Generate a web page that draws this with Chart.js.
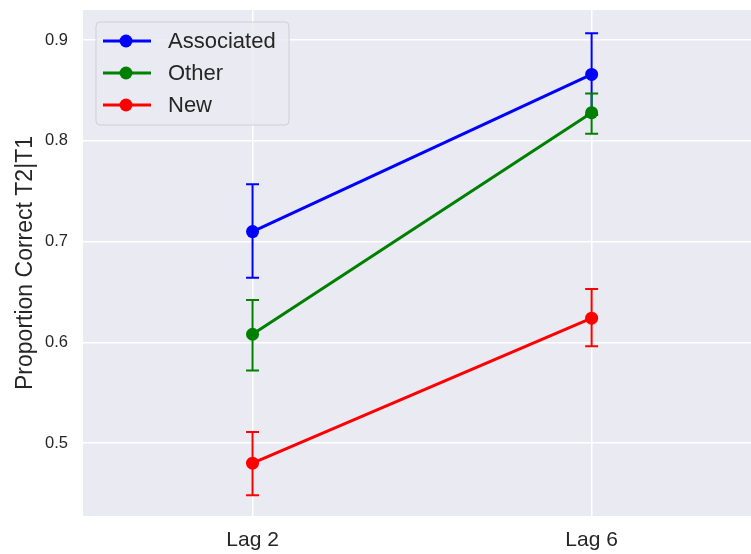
<!DOCTYPE html>
<html>
<head>
<meta charset="utf-8">
<script src="https://cdn.jsdelivr.net/npm/chart.js@4/dist/chart.umd.min.js"></script>
<style>
  body { margin: 0; background: #fff; }
  canvas { display: block; }
</style>
</head>
<body>
<canvas id="chart" width="751" height="554"></canvas>
<script>
const lags = ['Lag 2', 'Lag 6'];
const yTicks = [0.5, 0.6, 0.7, 0.8, 0.9];

const associated = [0.710, 0.866];
const associatedLo = [0.664, 0.826];
const associatedHi = [0.757, 0.907];

const other = [0.608, 0.828];
const otherLo = [0.572, 0.807];
const otherHi = [0.642, 0.847];

const newItems = [0.480, 0.624];
const newLo = [0.448, 0.596];
const newHi = [0.511, 0.653];

const FONT = '"Liberation Sans", Arial, sans-serif';
const TEXT = '#262626';

const toPoints = arr => arr.map((v, i) => ({ x: i, y: v }));

function series(label, color, vals, lo, hi, order) {
    return {
        label: label,
        data: toPoints(vals),
        lo: lo,
        hi: hi,
        order: order,
        borderColor: color,
        backgroundColor: color,
        borderWidth: 3,
        pointRadius: 6.5,
        pointHoverRadius: 6.5,
        pointBorderWidth: 0,
        tension: 0
    };
}

// grey panel behind the plot
const panelBg = {
    id: 'panelBg',
    beforeDraw(chart) {
        const { ctx, chartArea: a } = chart;
        ctx.save();
        ctx.fillStyle = '#eaeaf2';
        ctx.fillRect(a.left, a.top, a.right - a.left, a.bottom - a.top);
        ctx.restore();
    }
};

// vertical error bars with caps
const errorBars = {
    id: 'errorBars',
    afterDatasetDraw(chart, args) {
        const ds = chart.data.datasets[args.index];
        const { ctx, scales: { x, y } } = chart;
        ctx.save();
        ctx.strokeStyle = ds.borderColor;
        ctx.lineWidth = 2;
        ds.data.forEach((p, i) => {
            const px = x.getPixelForValue(p.x);
            const top = y.getPixelForValue(ds.hi[i]);
            const bot = y.getPixelForValue(ds.lo[i]);
            ctx.beginPath();
            ctx.moveTo(px, top); ctx.lineTo(px, bot);
            ctx.moveTo(px - 6.5, top); ctx.lineTo(px + 6.5, top);
            ctx.moveTo(px - 6.5, bot); ctx.lineTo(px + 6.5, bot);
            ctx.stroke();
        });
        ctx.restore();
    }
};

// matplotlib-style legend box in the upper left
const boxLegend = {
    id: 'boxLegend',
    afterDraw(chart) {
        const { ctx, chartArea: a } = chart;
        const bx = a.left + 13, by = a.top + 12, bw = 193, bh = 103;
        ctx.save();
        ctx.beginPath();
        ctx.roundRect(bx, by, bw, bh, 4);
        ctx.fillStyle = 'rgba(234,234,242,0.8)';
        ctx.fill();
        ctx.strokeStyle = '#cfcfd6';
        ctx.lineWidth = 1;
        ctx.stroke();
        const items = [chart.data.datasets[0], chart.data.datasets[1], chart.data.datasets[2]];
        items.forEach((ds, i) => {
            const cy = by + 19 + i * 32;
            ctx.strokeStyle = ds.borderColor;
            ctx.lineWidth = 3;
            ctx.beginPath();
            ctx.moveTo(bx + 7, cy); ctx.lineTo(bx + 55, cy);
            ctx.stroke();
            ctx.fillStyle = ds.borderColor;
            ctx.beginPath();
            ctx.arc(bx + 30, cy, 6.5, 0, Math.PI * 2);
            ctx.fill();
            ctx.fillStyle = TEXT;
            ctx.font = '22px ' + FONT;
            ctx.textBaseline = 'middle';
            ctx.fillText(ds.label, bx + 72, cy + 1);
        });
        ctx.restore();
    }
};

new Chart(document.getElementById('chart'), {
    type: 'line',
    data: {
        datasets: [
            series('Associated', '#0000ff', associated, associatedLo, associatedHi, 3),
            series('Other', '#008000', other, otherLo, otherHi, 2),
            series('New', '#ff0000', newItems, newLo, newHi, 1)
        ]
    },
    options: {
        responsive: false,
        animation: false,
        devicePixelRatio: 1,
        layout: { autoPadding: false, padding: { top: 10, right: 0, left: 0, bottom: 0 } },
        plugins: {
            legend: { display: false },
            tooltip: { enabled: false }
        },
        scales: {
            x: {
                type: 'linear',
                min: -0.5,
                max: 1.47,
                afterBuildTicks: s => { s.ticks = lags.map((l, i) => ({ value: i })); },
                afterFit: s => { s.height = 38; s.paddingLeft = 0; s.paddingRight = 0; },
                border: { display: false },
                grid: { color: '#ffffff', lineWidth: 1.5, drawTicks: false },
                ticks: {
                    padding: 12,
                    color: TEXT,
                    font: { family: FONT, size: 21 },
                    callback: v => lags[v]
                }
            },
            y: {
                min: 0.4275,
                max: 0.93,
                afterBuildTicks: s => { s.ticks = yTicks.map(v => ({ value: v })); },
                afterFit: s => { s.width = 83; s.paddingTop = 0; s.paddingBottom = 0; },
                border: { display: false },
                grid: { color: '#ffffff', lineWidth: 1.5, drawTicks: false },
                ticks: {
                    padding: 15,
                    color: TEXT,
                    font: { family: FONT, size: 16.5 },
                    callback: v => v.toFixed(1)
                },
                title: {
                    display: true,
                    text: 'Proportion Correct T2|T1',
                    color: TEXT,
                    font: { family: FONT, size: 23 },
                    padding: { top: 12, bottom: 0 }
                }
            }
        }
    },
    plugins: [panelBg, errorBars, boxLegend]
});
</script>
</body>
</html>
